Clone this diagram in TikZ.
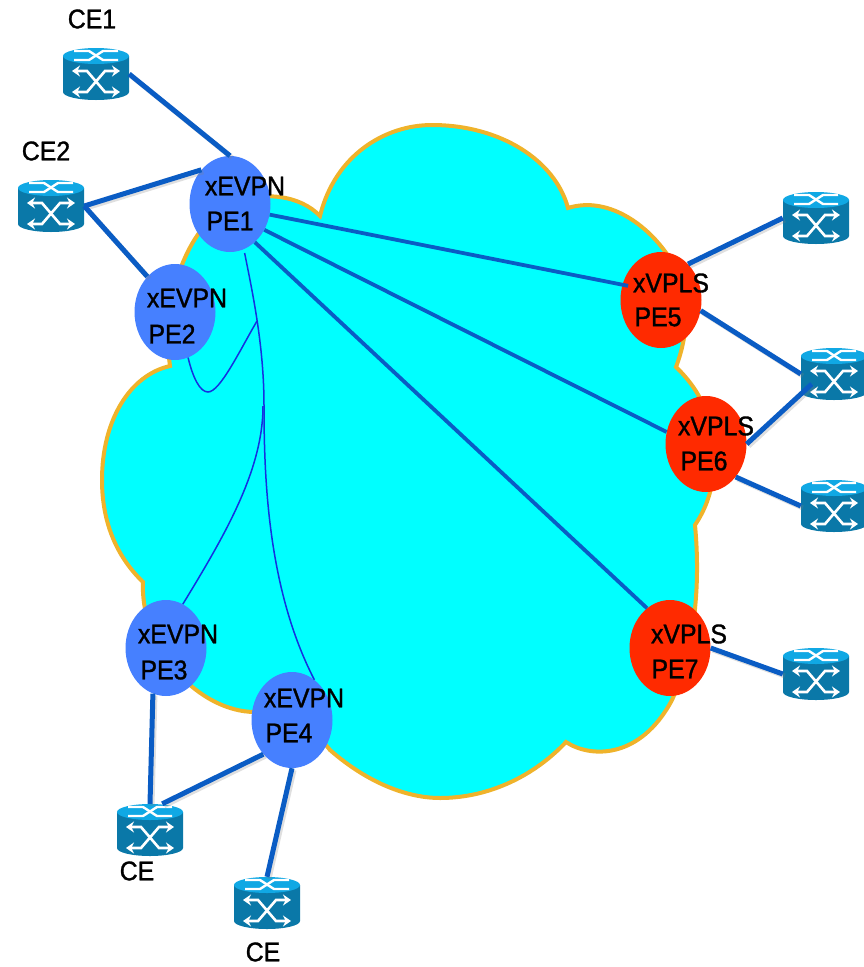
\documentclass[tikz,border=0pt]{standalone}
\usepackage{fontspec}
\setmainfont{Liberation Sans}
\newfontfamily\lblfont{Liberation Sans}[FakeStretch=0.92,FakeBold=1.2]
\usetikzlibrary{shapes.geometric,arrows.meta,calc}
\definecolor{cloudfill}{HTML}{00FFFF}
\definecolor{cloudedge}{HTML}{EFB32B}
\definecolor{evpn}{HTML}{4680FF}
\definecolor{vpls}{HTML}{FF2A00}
\definecolor{link}{HTML}{0A5CC4}
\definecolor{thin}{HTML}{1530E0}
\definecolor{rbody}{HTML}{0A78A8}
\definecolor{rtop}{HTML}{10A8E4}
\tikzset{
  pe/.style={ellipse,minimum width=81pt,minimum height=96pt,inner sep=0pt,draw=none},
  evpnpe/.style={pe,fill=evpn},
  vplspe/.style={pe,fill=vpls},
  routerbox/.style={rectangle,minimum width=66pt,minimum height=52pt,inner sep=0pt,draw=none},
  lbl/.style={font=\lblfont\fontsize{27}{27}\selectfont,inner sep=0pt,text=black},
  uplink/.style={draw=link,line width=5pt},
  corelink/.style={draw=link,line width=3.8pt},
  sliver/.style={draw=thin,line width=1.5pt},
  shade/.style={draw=black!50,opacity=.25,line width=5pt,transform canvas={xshift=2pt,yshift=-2pt}},
  rarrow/.style={draw=white,line width=2.6pt,{Stealth[length=8pt,width=11pt]}-{Stealth[length=8pt,width=11pt]}},
  rtoparrow/.style={draw=white,line width=2.4pt}
}
\newcommand{\routerat}[3]{%
  \begin{scope}[shift={(#2,#3)}]
    \fill[rbody] (-33,-18) -- (-33,18) arc[start angle=180,end angle=0,x radius=33,y radius=8] -- (33,-18) -- cycle;
    \fill[rtop] (0,-18) ellipse[x radius=33,y radius=8];
    \draw[rarrow] (-24,-3) -- (-9,-3) -- (9,18) -- (24,18);
    \draw[rarrow] (-24,18) -- (-9,18) -- (9,-3) -- (24,-3);
    \draw[rtoparrow] (-22,-23) -- (-7,-23) -- (7,-14) -- (22,-14);
    \draw[rtoparrow] (-22,-14) -- (-7,-14) -- (7,-23) -- (22,-23);
  \end{scope}%
  \node[routerbox] (#1) at (#2,#3) {};%
}
\begin{document}
\begin{tikzpicture}[x=1pt,y=-1pt]
\useasboundingbox (0,0) rectangle (863,967);
% cloud
\path[fill=cloudfill,draw=cloudedge,line width=4pt,line join=miter]
  (320,216) .. controls (335,155) and (385,125) .. (432,125)
  .. controls (500,125) and (555,160) .. (568,208)
  .. controls (610,195) and (652,228) .. (672,262)
  .. controls (690,290) and (690,330) .. (676,367)
  .. controls (705,395) and (714,425) .. (714,460)
  .. controls (714,490) and (705,510) .. (695,525)
  .. controls (702,600) and (690,660) .. (672,700)
  .. controls (640,760) and (590,758) .. (566,742)
  .. controls (535,775) and (490,798) .. (440,798)
  .. controls (410,798) and (370,785) .. (330,750)
  .. controls (310,725) and (285,712) .. (255,712)
  .. controls (200,712) and (140,650) .. (143,582)
  .. controls (115,555) and (102,520) .. (102,480)
  .. controls (102,420) and (130,375) .. (170,366)
  -- (168,350)
  .. controls (165,290) and (190,225) .. (230,205)
  .. controls (262,190) and (300,195) .. (320,216)
  -- cycle;
% PE nodes
\node[evpnpe] (pe1) at (230,204) {};
\node[evpnpe] (pe2) at (175,312) {};
\node[evpnpe] (pe3) at (166,648) {};
\node[evpnpe] (pe4) at (292,720) {};
\node[vplspe] (pe5) at (661,300) {};
\node[vplspe] (pe6) at (706,444) {};
\node[vplspe] (pe7) at (670,648) {};
% routers
\routerat{ce1}{96}{74}
\routerat{ce2}{51}{206}
\routerat{ce3}{150}{830}
\routerat{ce4}{267}{903}
\routerat{r5}{816}{218}
\routerat{r6}{834}{374}
\routerat{r7}{834}{506}
\routerat{r8}{816}{674}
% thin joins
\coordinate (j1) at (257,321);
\coordinate (j2) at (263,406);
% access links
\foreach \a/\b in {ce1.east/pe1.90, ce2.east/pe1.130, ce2.east/pe2.128, pe5.53/r5.west, pe5.-15/r6.west, pe6.-48/r7.west, pe7.east/r8.west, pe3.-106/ce3.north, pe4.-130/ce3.65, pe4.south/ce4.north}{
  \draw[shade] (\a) -- (\b);
  \draw[uplink] (\a) -- (\b);
}
\draw[shade] (pe6.east) -- ([shift={(11,10)}]r6.west);
\draw[uplink] (pe6.east) -- ([shift={(11,10)}]r6.west);
% core links
\draw[corelink] (pe1.-15) -- ([shift={(6,0)}]pe5.160);
\draw[corelink] (pe1.-37) -- (pe6.163);
\draw[corelink] (pe1.-57) -- (pe7.120);
% thin curves
\draw[sliver] ($(pe1.-72)+(0,4)$) .. controls (252,290) and (264,345) .. (264,405)
   .. controls (264,480) and (268,590) .. (pe4.61);
\draw[sliver] (pe2.-74) .. controls (193,378) and (200,392) .. (208,392)
   .. controls (220,392) and (240,350) .. (j1);
\draw[sliver] (j2) .. controls (263,470) and (225,535) .. (pe3.69);
% labels
\node[lbl] (t1a) at (245,186) {xEVPN};
\node[lbl] (t1b) at (230,221) {PE1};
\node[lbl] (t2a) at (187,298) {xEVPN};
\node[lbl] (t2b) at (172,334) {PE2};
\node[lbl] (t3a) at (178,634) {xEVPN};
\node[lbl] (t3b) at (164,670) {PE3};
\node[lbl] (t4a) at (304,698) {xEVPN};
\node[lbl] (t4b) at (289,733) {PE4};
\node[lbl] (t5a) at (671,283) {xVPLS};
\node[lbl] (t5b) at (658,317) {PE5};
\node[lbl] (t6a) at (716,426) {xVPLS};
\node[lbl] (t6b) at (704,461) {PE6};
\node[lbl] (t7a) at (689,634) {xVPLS};
\node[lbl] (t7b) at (675,669) {PE7};
\node[lbl] (c1) at (92,19) {CE1};
\node[lbl] (c2) at (46,151) {CE2};
\node[lbl] (c3) at (137,871) {CE};
\node[lbl] (c4) at (263,952) {CE};
\end{tikzpicture}
\end{document}
